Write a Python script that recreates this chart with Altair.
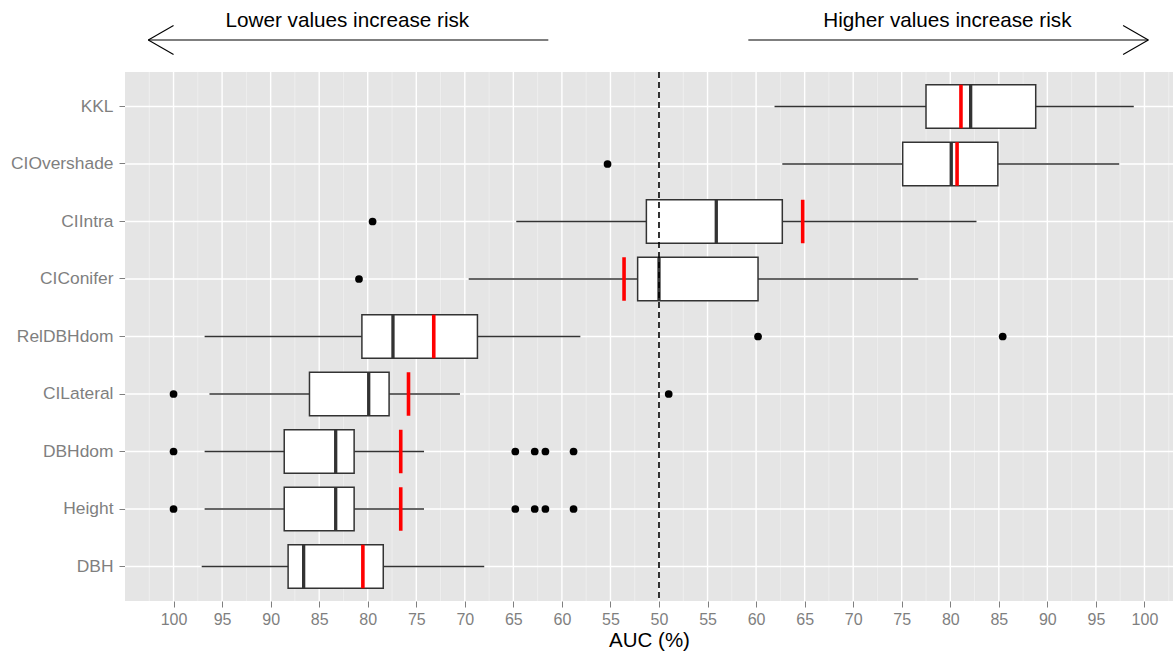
import altair as alt
import pandas as pd

# ---- data (AUC in %, 0-100; values < 50 are shown as 100 - AUC) ----
categories = ["KKL", "CIOvershade", "CIIntra", "CIConifer", "RelDBHdom",
              "CILateral", "DBHdom", "Height", "DBH"]
whisker_low = [61.9, 62.7, 35.3, 30.4, 3.2, 3.7, 3.2, 3.2, 2.9]
q1 = [77.5, 75.1, 48.7, 47.8, 19.4, 14.0, 11.4, 11.4, 11.8]
median = [82.1, 80.1, 55.9, 50.0, 22.6, 20.1, 16.7, 16.7, 13.4]
q3 = [88.8, 84.9, 62.7, 60.2, 31.3, 22.2, 18.6, 18.6, 21.6]
whisker_high = [98.9, 97.4, 82.7, 76.7, 41.9, 29.5, 25.8, 25.8, 32.0]
mean = [81.1, 80.7, 64.8, 46.4, 26.8, 24.2, 23.4, 23.4, 19.5]

outlier_cat = ["CIOvershade", "CIIntra", "CIConifer", "RelDBHdom", "RelDBHdom",
               "CILateral", "CILateral",
               "DBHdom", "DBHdom", "DBHdom", "DBHdom", "DBHdom",
               "Height", "Height", "Height", "Height", "Height"]
outlier_val = [44.7, 20.5, 19.1, 60.2, 85.4,
               0.0, 51.0,
               0.0, 35.2, 37.2, 38.3, 41.2,
               0.0, 35.2, 37.2, 38.3, 41.2]

major_ticks = [0, 5, 10, 15, 20, 25, 30, 35, 40, 45, 50, 55, 60, 65, 70, 75, 80, 85, 90, 95, 100]
minor_ticks = [-2.5, 2.5, 7.5, 12.5, 17.5, 22.5, 27.5, 32.5, 37.5, 42.5, 47.5, 52.5,
               57.5, 62.5, 67.5, 72.5, 77.5, 82.5, 87.5, 92.5, 97.5, 102.5]
reference_line = [50]

# annotation arrows (in AUC units) and labels
arrow_from = [38.6, 59.2]
arrow_to = [-2.6, 100.4]
arrow_back = [0.0, 97.8]
label_text = ["Lower values increase risk", "Higher values increase risk"]
label_pos = [17.9, 79.7]

FONT = "Liberation Sans"
BOX_H = 43.5

box_df = pd.DataFrame({"variable": categories, "wl": whisker_low, "q1": q1,
                       "med": median, "q3": q3, "wh": whisker_high, "mean": mean})
out_df = pd.DataFrame({"variable": outlier_cat, "auc": outlier_val})
major_df = pd.DataFrame({"v": major_ticks})
minor_df = pd.DataFrame({"v": minor_ticks})
cat_df = pd.DataFrame({"variable": categories})
ref_df = pd.DataFrame({"v": reference_line})
arrow_df = pd.DataFrame({"a": arrow_from, "b": arrow_to, "back": arrow_back})
label_df = pd.DataFrame({"t": label_text, "x": label_pos})

xs = alt.Scale(domain=[-5.0, 102.94], nice=False, zero=False)
ys = alt.Scale(domain=categories, paddingInner=0, paddingOuter=0.1)

x_axis = alt.Axis(values=major_ticks, grid=False, domain=False,
                  labelExpr="datum.value < 50 ? format(100 - datum.value, 'd') : format(datum.value, 'd')",
                  tickColor="#7F7F7F", tickSize=6, tickWidth=1,
                  labelColor="#7F7F7F", labelFontSize=16, labelFont=FONT, labelPadding=4,
                  title="AUC (%)", titleFont=FONT, titleFontSize=20.5, titleFontWeight="normal",
                  titleColor="black", titlePadding=3)
y_axis = alt.Axis(grid=False, domain=False, title=None,
                  tickColor="#7F7F7F", tickSize=6, tickWidth=1,
                  labelColor="#7F7F7F", labelFontSize=17.4, labelFont=FONT, labelPadding=6)


def X(field):
    return alt.X(field, type="quantitative", scale=xs, axis=x_axis)


def Y():
    return alt.Y("variable:N", scale=ys, axis=y_axis, sort=categories)


minor = alt.Chart(minor_df).mark_rule(color="#F2F2F2", strokeWidth=0.7).encode(x=X("v"))
major = alt.Chart(major_df).mark_rule(color="white", strokeWidth=1.4).encode(x=X("v"))
hgrid = alt.Chart(cat_df).mark_rule(color="white", strokeWidth=1.4).encode(y=Y())

whisk = alt.Chart(box_df).mark_rule(color="#333333", strokeWidth=1.4).encode(
    x=X("wl"), x2="wh:Q", y=Y())
boxes = alt.Chart(box_df).mark_bar(height=BOX_H, fill="white", stroke="#333333",
                                   strokeWidth=1.5).encode(
    x=X("q1"), x2="q3:Q", y=Y())
meds = alt.Chart(box_df).mark_tick(color="#333333", thickness=3.3, size=BOX_H, opacity=1).encode(
    x=X("med"), y=Y())
means = alt.Chart(box_df).mark_tick(color="#FF0000", thickness=3.6, size=BOX_H, opacity=1).encode(
    x=X("mean"), y=Y())
ref = alt.Chart(ref_df).mark_rule(color="black", strokeWidth=1.6, strokeDash=[6, 4]).encode(
    x=X("v"))
outs = alt.Chart(out_df).mark_point(filled=True, color="black", size=60, opacity=1).encode(
    x=X("auc"), y=Y())

arrow_lines = alt.Chart(arrow_df).mark_rule(color="black", strokeWidth=1.1, clip=False).encode(
    x=X("a"), x2="b:Q", y=alt.value(-32))
arm_up = alt.Chart(arrow_df).mark_rule(color="black", strokeWidth=1.1, clip=False).encode(
    x=X("b"), x2="back:Q", y=alt.value(-32), y2=alt.value(-46.5))
arm_dn = alt.Chart(arrow_df).mark_rule(color="black", strokeWidth=1.1, clip=False).encode(
    x=X("b"), x2="back:Q", y=alt.value(-32), y2=alt.value(-17.5))
labels = alt.Chart(label_df).mark_text(font=FONT, fontSize=20.7, color="black",
                                       baseline="middle", align="center", clip=False).encode(
    x=X("x"), y=alt.value(-51), text="t:N")

chart = alt.layer(minor, major, hgrid, whisk, boxes, meds, means, ref, outs,
                  arrow_lines, arm_up, arm_dn, labels).properties(
    width=1048, height=529, autosize="none",
    padding={"left": 125, "top": 72, "right": 0, "bottom": 50},
    background="white",
).configure_view(fill="#E5E5E5", stroke=None)

chart.save("out.html", embed_options={"renderer": "svg", "actions": False})
